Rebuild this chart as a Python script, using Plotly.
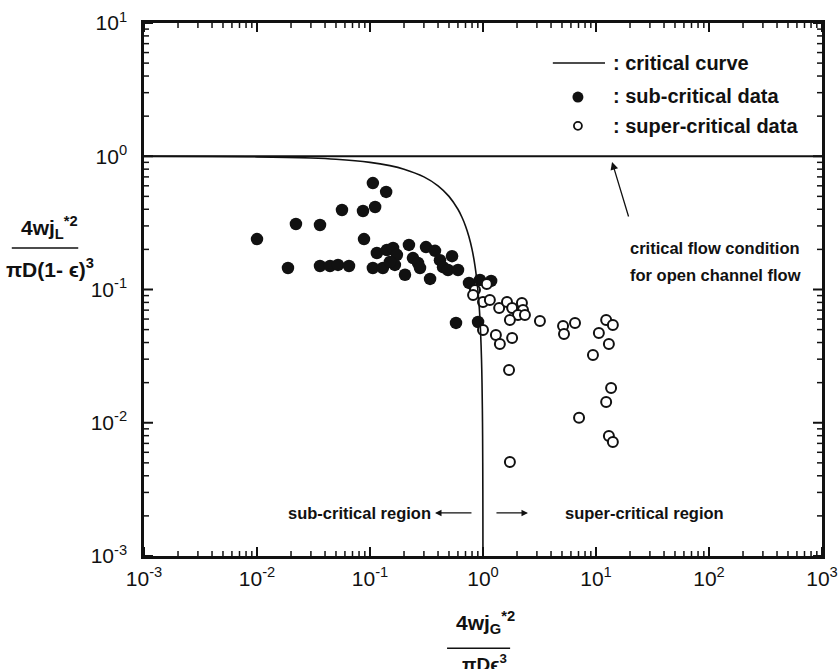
import plotly.graph_objects as go

# Sub-critical data (filled circles): gas / liquid dimensionless fluxes
sub_x = [0.010, 0.0188, 0.0221, 0.0361, 0.0361, 0.0443, 0.0521, 0.0652, 0.0565, 0.0867,
         0.106, 0.111, 0.139, 0.0885, 0.106, 0.130, 0.115, 0.141, 0.160, 0.173,
         0.166, 0.204, 0.221, 0.240, 0.266, 0.313, 0.376, 0.416, 0.443, 0.340,
         0.532, 0.490, 0.601, 0.752, 0.94, 1.18, 0.577, 0.904, 0.277, 0.150]
sub_y = [0.239, 0.145, 0.310, 0.305, 0.150, 0.150, 0.153, 0.150, 0.395, 0.388,
         0.629, 0.416, 0.540, 0.239, 0.145, 0.145, 0.188, 0.198, 0.205, 0.182,
         0.153, 0.129, 0.216, 0.172, 0.158, 0.208, 0.195, 0.166, 0.147, 0.120,
         0.178, 0.140, 0.140, 0.112, 0.118, 0.116, 0.0561, 0.0570, 0.145, 0.161]

# Super-critical data (open circles)
sup_x = [0.849, 1.08, 0.817, 1.00, 1.15, 1.39, 1.63, 1.81, 2.21, 2.26,
         2.04, 2.35, 1.73, 3.19, 5.11, 5.21, 6.52, 1.00, 1.30, 1.41,
         1.81, 1.70, 1.73, 12.3, 14.1, 10.6, 13.0, 9.40, 13.6, 12.3,
         7.08, 13.0, 14.1]
sup_y = [0.0991, 0.110, 0.0910, 0.0805, 0.0834, 0.0726, 0.0805, 0.0726, 0.0792, 0.0702,
         0.0644, 0.0644, 0.0590, 0.0581, 0.0533, 0.0463, 0.0561, 0.0497, 0.0456, 0.0390,
         0.0433, 0.0249, 0.00507, 0.0590, 0.0542, 0.0472, 0.0390, 0.0322, 0.0182, 0.0143,
         0.0109, 0.00796, 0.00718]

# Critical curve
crit_x = [0.001, 0.01, 0.03, 0.05, 0.1, 0.15, 0.2, 0.3, 0.4, 0.5, 0.6, 0.65, 0.7,
          0.75, 0.8, 0.85, 0.9, 0.93, 0.95, 0.97, 0.98, 0.99, 0.995, 0.998, 0.999]
crit_y = [0.999, 0.99, 0.97, 0.95, 0.9, 0.85, 0.8, 0.7, 0.6, 0.5, 0.4, 0.35, 0.3,
          0.25, 0.2, 0.15, 0.1, 0.07, 0.05, 0.03, 0.02, 0.01, 0.005, 0.002, 0.001]

# Critical flow condition for open channel flow
open_x = [1e-3, 1e3]
open_y = [1.0, 1.0]

x_tickvals = [1e-3, 1e-2, 1e-1, 1e0, 1e1, 1e2, 1e3]
x_ticktext = ["10<sup>-3</sup>", "10<sup>-2</sup>", "10<sup>-1</sup>", "10<sup>0</sup>",
              "10<sup>1</sup>", "10<sup>2</sup>", "10<sup>3</sup>"]
y_tickvals = [1e-3, 1e-2, 1e-1, 1e0, 1e1]
y_ticktext = ["10<sup>-3</sup>", "10<sup>-2</sup>", "10<sup>-1</sup>", "10<sup>0</sup>",
              "10<sup>1</sup>"]

FONT = "Liberation Sans, Arial, sans-serif"
BLACK = "#111111"

x_minor = [m * 10.0 ** e for e in range(-3, 3) for m in range(2, 10)]
y_minor = [m * 10.0 ** e for e in range(-3, 1) for m in range(2, 10)]

fig = go.Figure()

fig.add_trace(go.Scatter(x=open_x, y=open_y, mode="lines",
                         line=dict(color=BLACK, width=2), showlegend=False))
fig.add_trace(go.Scatter(x=sub_x, y=sub_y, mode="markers",
                         marker=dict(symbol="circle", size=12.5, color=BLACK,
                                     line=dict(width=0)),
                         showlegend=False))
fig.add_trace(go.Scatter(x=sup_x, y=sup_y, mode="markers",
                         marker=dict(symbol="circle", size=10, color="white",
                                     line=dict(width=2, color=BLACK)),
                         showlegend=False))
fig.add_trace(go.Scatter(x=crit_x, y=crit_y, mode="lines",
                         line=dict(color=BLACK, width=1.6, shape="spline"),
                         showlegend=False))

axis_common = dict(
    showgrid=False, zeroline=False, showline=True, linecolor=BLACK, linewidth=2.5,
    mirror=True, ticks="", tickmode="array", automargin=False,
    tickfont=dict(family=FONT, size=21, color=BLACK),
)

fig.update_xaxes(type="log", range=[-3, 3], tickvals=x_tickvals, ticktext=x_ticktext,
                 ticklabelstandoff=2, **axis_common)
fig.update_yaxes(type="log", range=[-3, 1], tickvals=y_tickvals, ticktext=y_ticktext,
                 ticklabelstandoff=10, **axis_common)

shapes = []
annotations = []


# Inward tick marks on all four sides of the frame (shape positions in data units)
def x_tick(v, length, width):
    for anchor, sign in ((0, 1), (1, -1)):
        shapes.append(dict(type="line", xref="x", yref="paper", ysizemode="pixel",
                           yanchor=anchor, x0=v, x1=v, y0=0, y1=sign * length,
                           line=dict(color=BLACK, width=width)))


def y_tick(v, length, width):
    for anchor, sign in ((0, 1), (1, -1)):
        shapes.append(dict(type="line", xref="paper", yref="y", xsizemode="pixel",
                           xanchor=anchor, y0=v, y1=v, x0=0, x1=sign * length,
                           line=dict(color=BLACK, width=width)))


for v in x_tickvals:
    x_tick(v, 9, 2)
for v in x_minor:
    x_tick(v, 5, 1.5)
for v in y_tickvals:
    y_tick(v, 9, 2)
for v in y_minor:
    y_tick(v, 5, 1.5)

# Hand-drawn key in the upper right corner
shapes.append(dict(type="line", xref="paper", yref="paper",
                   x0=0.603, x1=0.680, y0=0.925, y1=0.925,
                   line=dict(color=BLACK, width=1.6)))
shapes.append(dict(type="circle", xref="paper", yref="paper",
                   xsizemode="pixel", ysizemode="pixel",
                   xanchor=0.640, yanchor=0.861, x0=-5.5, x1=5.5, y0=-5.5, y1=5.5,
                   fillcolor=BLACK, line=dict(color=BLACK, width=0)))
shapes.append(dict(type="circle", xref="paper", yref="paper",
                   xsizemode="pixel", ysizemode="pixel",
                   xanchor=0.640, yanchor=0.807, x0=-4, x1=4, y0=-4, y1=4,
                   fillcolor="white", line=dict(color=BLACK, width=1.8)))
for txt, yp in [(": critical curve", 0.925), (": sub-critical data", 0.863),
                (": super-critical data", 0.807)]:
    annotations.append(dict(text=txt, xref="paper", yref="paper", x=0.689, y=yp,
                            xanchor="left", yanchor="middle", showarrow=False,
                            font=dict(family=FONT, size=20, color=BLACK,
                                      weight="bold")))

# Note and arrow pointing at the open-channel line
for txt, ly in [("critical flow condition", -0.690), ("for open channel flow", -0.893)]:
    annotations.append(dict(text=txt, xref="x", yref="y", x=1.283, y=ly,
                            xanchor="left", yanchor="middle", showarrow=False,
                            font=dict(family=FONT, size=16.5, color=BLACK,
                                      weight="bold")))
annotations.append(dict(text="", xref="x", yref="y", x=1.142, y=-0.043,
                        axref="x", ayref="y", ax=1.292, ay=-0.463,
                        showarrow=True, arrowhead=2, arrowsize=1.2, arrowwidth=1.3,
                        arrowcolor=BLACK))

# Region labels
region_font = dict(family=FONT, size=16.5, color=BLACK, weight="bold")
annotations.append(dict(text="sub-critical region", xref="x", yref="y",
                        x=-0.440, y=-2.677, xanchor="right", yanchor="middle",
                        showarrow=False, font=region_font))
annotations.append(dict(text="", xref="x", yref="y", x=-0.425, y=-2.677,
                        ax=38, ay=0, showarrow=True, arrowhead=2, arrowsize=1,
                        arrowwidth=1.3, arrowcolor=BLACK))
annotations.append(dict(text="", xref="x", yref="y", x=0.398, y=-2.677,
                        ax=-33, ay=0, showarrow=True, arrowhead=2, arrowsize=1,
                        arrowwidth=1.3, arrowcolor=BLACK))
annotations.append(dict(text="super-critical region", xref="x", yref="y",
                        x=0.705, y=-2.677, xanchor="left", yanchor="middle",
                        showarrow=False, font=region_font))

# Y axis title as a fraction
annotations.append(dict(text="<b>4wj<sub>L</sub><sup>*2</sup></b>", xref="paper",
                        yref="paper", x=-0.140, y=0.578, xanchor="center",
                        yanchor="bottom", yshift=4, showarrow=False,
                        font=dict(family=FONT, size=21, color=BLACK)))
shapes.append(dict(type="line", xref="paper", yref="paper",
                   x0=-0.195, x1=-0.097, y0=0.578, y1=0.578,
                   line=dict(color=BLACK, width=1.5)))
annotations.append(dict(text="<b>πD(1- ϵ)<sup>3</sup></b>", xref="paper",
                        yref="paper", x=-0.139, y=0.578, xanchor="center",
                        yanchor="top", yshift=-5, showarrow=False,
                        font=dict(family=FONT, size=21, color=BLACK)))

# X axis title as a fraction
annotations.append(dict(text="<b>4wj<sub>G</sub><sup>*2</sup></b>", xref="paper",
                        yref="paper", x=0.504, y=-0.173, xanchor="center",
                        yanchor="bottom", yshift=9, showarrow=False,
                        font=dict(family=FONT, size=21, color=BLACK)))
shapes.append(dict(type="line", xref="paper", yref="paper",
                   x0=0.447, x1=0.540, y0=-0.173, y1=-0.173,
                   line=dict(color=BLACK, width=1.5)))
annotations.append(dict(text="<b>πDϵ<sup>3</sup></b>", xref="paper",
                        yref="paper", x=0.502, y=-0.173, xanchor="center",
                        yanchor="top", yshift=-1, showarrow=False,
                        font=dict(family=FONT, size=19, color=BLACK)))

fig.update_layout(
    width=839, height=669,
    margin=dict(l=144, r=17, t=23, b=113),
    paper_bgcolor="white", plot_bgcolor="white",
    font=dict(family=FONT, color=BLACK),
    showlegend=False,
    shapes=shapes,
    annotations=annotations,
)

fig.write_html("out.html")
